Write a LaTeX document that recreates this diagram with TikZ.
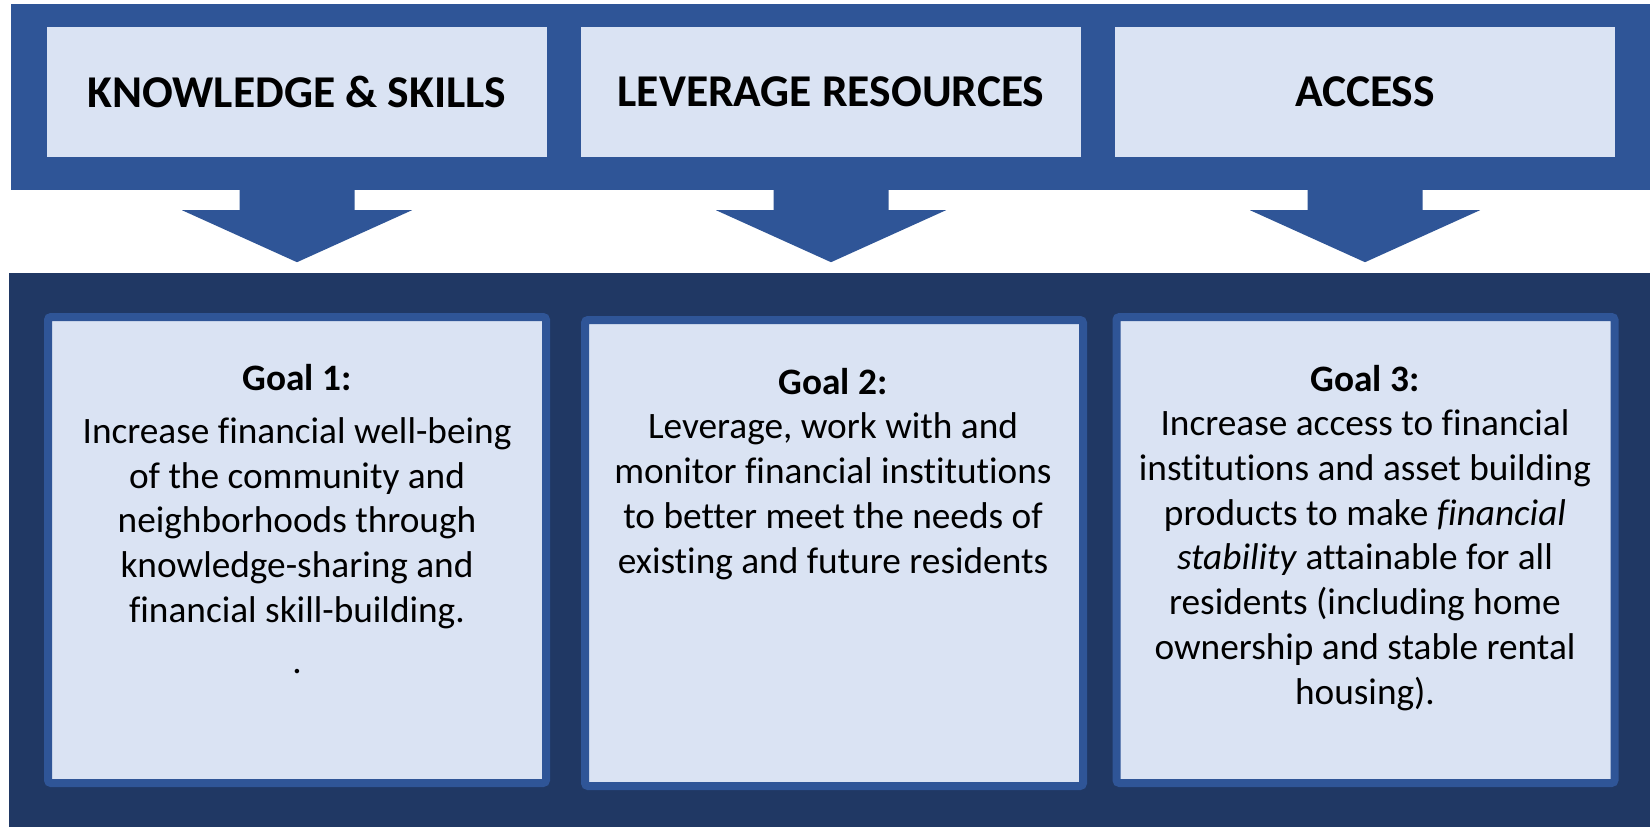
\documentclass[tikz,border=0pt]{standalone}
\usepackage{fontspec}
\setmainfont[Ligatures=CommonOff]{Carlito}
\usetikzlibrary{calc}
\definecolor{bandblue}{HTML}{2F5597}
\definecolor{navy}{HTML}{203864}
\definecolor{paleblue}{HTML}{DAE3F3}
\begin{document}
\begin{tikzpicture}[x=1pt,y=-1pt,
  header/.style={fill=paleblue, minimum width=500pt, minimum height=130pt,
    inner sep=0pt, font=\fontsize{45.5}{55}\selectfont\bfseries},
  goalbox/.style={fill=paleblue, draw=bandblue, line width=8pt,
    rounded corners=3pt, minimum width=498pt, minimum height=466pt, inner sep=0pt},
  % anchored at the baseline of the last line
  goaltext/.style={align=center, anchor=base, inner sep=0pt,
    font=\fontsize{37.3}{44.7}\selectfont},
  blockarrow/.style={fill=bandblue}
]
\useasboundingbox (0,0) rectangle (1650,827);
\fill[white] (0,0) rectangle (1650,827);

% top band with the three headings
\fill[bandblue] (11,4) rectangle (1650,190);
\node[header] (h1) at (297,92) {KNOWLEDGE \& SKILLS};
\node[header] (h2) at (831,92) {LEVERAGE RESOURCES};
\node[header] (h3) at (1365,92) {ACCESS};

% block arrows pointing down from each heading
\foreach \h in {h1,h2,h3}{
  \fill[blockarrow]
    ($(\h.south)+(-57.5,31)$) -- ($(\h.south)+(57.5,31)$)
    -- ($(\h.south)+(57.5,53)$) -- ($(\h.south)+(115,53)$)
    -- ($(\h.south)+(0,105)$) -- ($(\h.south)+(-115,53)$)
    -- ($(\h.south)+(-57.5,53)$) -- cycle;
}

% lower band with the goals
\fill[navy] (9,273) rectangle (1650,827);
\node[goalbox] (g1) at (297,550) {};
\node[goalbox] (g2) at (834,553) {};
\node[goalbox] (g3) at (1365.5,550) {};

\node[goaltext] (t1) at (297,673) {\textbf{Goal 1:}\\[8pt]
  Increase financial well-being\\
  of the community and\\
  neighborhoods through\\
  knowledge-sharing and\\
  financial skill-building.\\[6pt]
  .};
\node[goaltext] (t2) at (833,573) {\textbf{Goal 2:}\\
  Leverage, work with and\\
  monitor financial institutions\\
  to better meet the needs of\\
  existing and future residents};
\node[goaltext] (t3) at (1365,704) {\textbf{Goal 3:}\\
  Increase access to financial\\
  institutions and asset building\\
  products to make \textit{financial}\\
  \textit{stability} attainable for all\\
  residents (including home\\
  ownership and stable rental\\
  housing).};
\end{tikzpicture}
\end{document}
